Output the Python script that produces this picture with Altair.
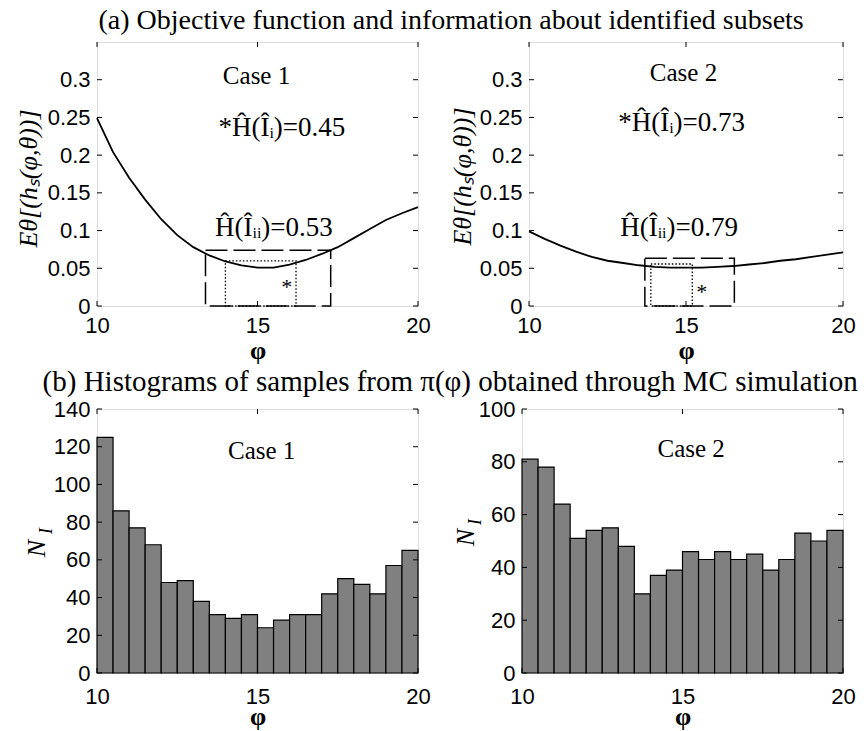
import altair as alt
import pandas as pd

SERIF = "Liberation Serif"
SANS = "Liberation Sans"

# ---------------- data ----------------
phi_grid = [10.0, 10.5, 11.0, 11.5, 12.0, 12.5, 13.0, 13.5, 14.0, 14.5, 15.0,
            15.5, 16.0, 16.5, 17.0, 17.5, 18.0, 18.5, 19.0, 19.5, 20.0]
obj_case1 = [0.249, 0.204, 0.170, 0.141, 0.115, 0.094, 0.078, 0.067, 0.059, 0.054, 0.051,
             0.051, 0.055, 0.061, 0.069, 0.078, 0.090, 0.102, 0.114, 0.123, 0.131]
obj_case2 = [0.099, 0.089, 0.080, 0.072, 0.065, 0.060, 0.057, 0.054, 0.052, 0.051, 0.051,
             0.051, 0.052, 0.053, 0.055, 0.057, 0.060, 0.062, 0.065, 0.068, 0.071]

# subset boxes: [phi_low, phi_high, top]
dashed_case1 = [13.38, 17.28, 0.074]
dotted_case1 = [14.00, 16.20, 0.0597]
dashed_case2 = [13.69, 16.54, 0.0632]
dotted_case2 = [13.88, 15.20, 0.0557]

info_case1 = ["*Ĥ(Îᵢ)=0.45", "Ĥ(Îᵢᵢ)=0.53"]
info_case2 = ["*Ĥ(Îᵢ)=0.73", "Ĥ(Îᵢᵢ)=0.79"]

bin_low = [10.0, 10.5, 11.0, 11.5, 12.0, 12.5, 13.0, 13.5, 14.0, 14.5,
           15.0, 15.5, 16.0, 16.5, 17.0, 17.5, 18.0, 18.5, 19.0, 19.5]
bin_high = [10.5, 11.0, 11.5, 12.0, 12.5, 13.0, 13.5, 14.0, 14.5, 15.0,
            15.5, 16.0, 16.5, 17.0, 17.5, 18.0, 18.5, 19.0, 19.5, 20.0]
counts_case1 = [125, 86, 77, 68, 48, 49, 38, 31, 29, 31, 24, 28, 31, 31, 42, 50, 47, 42, 57, 65]
counts_case2 = [81, 78, 64, 51, 54, 55, 48, 30, 37, 39, 46, 43, 46, 43, 45, 39, 43, 53, 50, 54]

x_ticks = [10, 15, 20]
y_ticks_obj = [0, 0.05, 0.1, 0.15, 0.2, 0.25, 0.3]
y_ticks_h1 = [0, 20, 40, 60, 80, 100, 120, 140]
y_ticks_h2 = [0, 20, 40, 60, 80, 100]

TITLE_A = "(a) Objective function and information about identified subsets"
TITLE_B = "(b) Histograms of samples from π(φ) obtained through MC simulation"
YTITLE_OBJ = "Eθ[(hₛ(φ,θ))]"


def x_axis(label_pad, title_pad):
    return alt.Axis(values=x_ticks, title="φ", titleFont=SERIF, titleFontWeight="bold",
                    titleFontSize=26, labelFont=SANS, labelFontSize=22, tickSize=0,
                    domain=False, grid=False, labelPadding=label_pad, titlePadding=title_pad,
                    labelColor="black", titleColor="black", labelFlush=False)


def y_axis(values, title, tx, ty, fmt):
    return alt.Axis(values=values, title=title, format=fmt, titleFont=SERIF,
                    titleFontStyle="italic", titleFontWeight="normal",
                    titleFontSize=26, labelFont=SANS, labelFontSize=22, tickSize=0,
                    domain=False, grid=False, labelPadding=7, titleX=tx, titleY=ty,
                    titleAlign="center", titleBaseline="middle", titleAngle=270,
                    labelColor="black", titleColor="black")


def inward_ticks(xs, ys, xax, yax, yvals, W, H):
    xt = pd.DataFrame({"v": x_ticks})
    yt = pd.DataFrame({"v": yvals})
    L = 5
    layers = []
    layers.append(alt.Chart(xt).mark_rule(color="black", strokeWidth=1).encode(
        x=alt.X("v:Q", scale=xs, axis=xax), y=alt.value(H), y2=alt.value(H - L)))
    layers.append(alt.Chart(xt).mark_rule(color="black", strokeWidth=1).encode(
        x=alt.X("v:Q", scale=xs, axis=xax), y=alt.value(0), y2=alt.value(L)))
    layers.append(alt.Chart(yt).mark_rule(color="black", strokeWidth=1).encode(
        y=alt.Y("v:Q", scale=ys, axis=yax), x=alt.value(0), x2=alt.value(L)))
    layers.append(alt.Chart(yt).mark_rule(color="black", strokeWidth=1).encode(
        y=alt.Y("v:Q", scale=ys, axis=yax), x=alt.value(W), x2=alt.value(W - L)))
    return layers


def objective_panel(obj, dashed, dotted, info, case_label, case_pos, info_pos, star_pos,
                    W, H, ytx, yty):
    xs = alt.Scale(domain=[10, 20], nice=False, zero=False)
    ys = alt.Scale(domain=[0, 0.35], nice=False)
    xax = x_axis(9, 1)
    yax = y_axis(y_ticks_obj, YTITLE_OBJ, ytx, yty, "~g")
    df = pd.DataFrame({"phi": phi_grid, "E": obj})
    line = alt.Chart(df).mark_line(color="black", strokeWidth=1.8).encode(
        x=alt.X("phi:Q", scale=xs, axis=xax), y=alt.Y("E:Q", scale=ys, axis=yax))
    dbox = pd.DataFrame({"a": [dashed[0]], "b": [dashed[1]], "t": [dashed[2]], "z": [0.0]})
    obox = pd.DataFrame({"a": [dotted[0]], "b": [dotted[1]], "t": [dotted[2]], "z": [0.0]})
    dashed_r = alt.Chart(dbox).mark_rect(fillOpacity=0, stroke="black", strokeWidth=1.5,
                                         strokeDash=[22, 6]).encode(
        x=alt.X("a:Q", scale=xs, axis=xax), x2="b:Q", y=alt.Y("t:Q", scale=ys, axis=yax), y2="z:Q")
    dotted_r = alt.Chart(obox).mark_rect(fillOpacity=0, stroke="black", strokeWidth=1.3,
                                         strokeDash=[1.5, 2]).encode(
        x=alt.X("a:Q", scale=xs, axis=xax), x2="b:Q", y=alt.Y("t:Q", scale=ys, axis=yax), y2="z:Q")
    tdf = pd.DataFrame({"x": [case_pos[0]], "y": [case_pos[1]], "t": [case_label]})
    case_t = alt.Chart(tdf).mark_text(font=SERIF, fontSize=25, color="black",
                                      baseline="middle").encode(
        x=alt.X("x:Q", scale=xs, axis=xax), y=alt.Y("y:Q", scale=ys, axis=yax), text="t:N")
    idf = pd.DataFrame({"x": [info_pos[0][0], info_pos[1][0]], "y": [info_pos[0][1], info_pos[1][1]],
                        "t": info})
    info_t = alt.Chart(idf).mark_text(font=SERIF, fontSize=27, color="black",
                                      baseline="middle").encode(
        x=alt.X("x:Q", scale=xs, axis=xax), y=alt.Y("y:Q", scale=ys, axis=yax), text="t:N")
    sdf = pd.DataFrame({"x": [star_pos[0]], "y": [star_pos[1]], "t": ["*"]})
    star_t = alt.Chart(sdf).mark_text(font=SERIF, fontSize=22, color="black",
                                      baseline="middle").encode(
        x=alt.X("x:Q", scale=xs, axis=xax), y=alt.Y("y:Q", scale=ys, axis=yax), text="t:N")
    layers = [line, dashed_r, dotted_r, case_t, info_t, star_t] + inward_ticks(xs, ys, xax, yax, y_ticks_obj, W, H)
    return alt.layer(*layers).properties(width=W, height=H)


def hist_panel(counts, ymax, yvals, case_label, case_pos, W, H, ytx, yty, sub_pos):
    xs = alt.Scale(domain=[10, 20], nice=False, zero=False)
    ys = alt.Scale(domain=[0, ymax], nice=False)
    xax = x_axis(13, -4)
    yax = y_axis(yvals, "N", ytx, yty, "d")
    df = pd.DataFrame({"lo": bin_low, "hi": bin_high, "n": counts, "z": [0] * len(counts)})
    bars = alt.Chart(df).mark_rect(fill="#808080", stroke="black", strokeWidth=1.2).encode(
        x=alt.X("lo:Q", scale=xs, axis=xax), x2="hi:Q",
        y=alt.Y("n:Q", scale=ys, axis=yax), y2="z:Q")
    tdf = pd.DataFrame({"x": [case_pos[0]], "y": [case_pos[1]], "t": [case_label]})
    case_t = alt.Chart(tdf).mark_text(font=SERIF, fontSize=25, color="black",
                                      baseline="middle").encode(
        x=alt.X("x:Q", scale=xs, axis=xax), y=alt.Y("y:Q", scale=ys, axis=yax), text="t:N")
    sub = alt.Chart(pd.DataFrame({"t": ["I"]})).mark_text(
        font=SERIF, fontSize=18, fontStyle="italic", color="black", angle=270,
        baseline="middle").encode(x=alt.value(sub_pos[0]), y=alt.value(sub_pos[1]), text="t:N")
    layers = [bars, case_t, sub] + inward_ticks(xs, ys, xax, yax, yvals, W, H)
    return alt.layer(*layers).properties(width=W, height=H)


H = 264
p1 = objective_panel(obj_case1, dashed_case1, dotted_case1, info_case1, "Case 1",
                     (14.97, 0.305), [(15.76, 0.2355), (15.51, 0.104)], (15.91, 0.0256),
                     321, H, -69, 136)
p2 = objective_panel(obj_case2, dashed_case2, dotted_case2, info_case2, "Case 2",
                     (14.92, 0.3085), [(14.86, 0.242), (14.78, 0.103)], (15.5, 0.019),
                     314, H, -67, 134)
h1 = hist_panel(counts_case1, 140, y_ticks_h1, "Case 1", (15.13, 117.9), 321, H, -61, 139, (-50, 122))
h2 = hist_panel(counts_case2, 100, y_ticks_h2, "Case 2", (15.27, 84.9), 321, H, -57, 128, (-46, 113))

row1 = alt.hconcat(p1, p2, spacing=111, bounds="flush",
                   title=alt.Title(TITLE_A, font=SERIF, fontSize=28, fontWeight="normal",
                                   anchor="middle", dx=16, offset=6, color="black"))
row2 = alt.hconcat(h1, h2, spacing=104, bounds="flush",
                   title=alt.Title(TITLE_B, font=SERIF, fontSize=29, fontWeight="normal",
                                   anchor="middle", dx=11, offset=1, color="black"))

chart = alt.vconcat(row1, row2, spacing=3).properties(
    padding={"left": 14, "top": 7, "right": 5, "bottom": 5}
).configure_view(stroke="black", strokeWidth=1.5).configure(background="white")

chart.save("out.html", embed_options={"renderer": "svg", "actions": False})
